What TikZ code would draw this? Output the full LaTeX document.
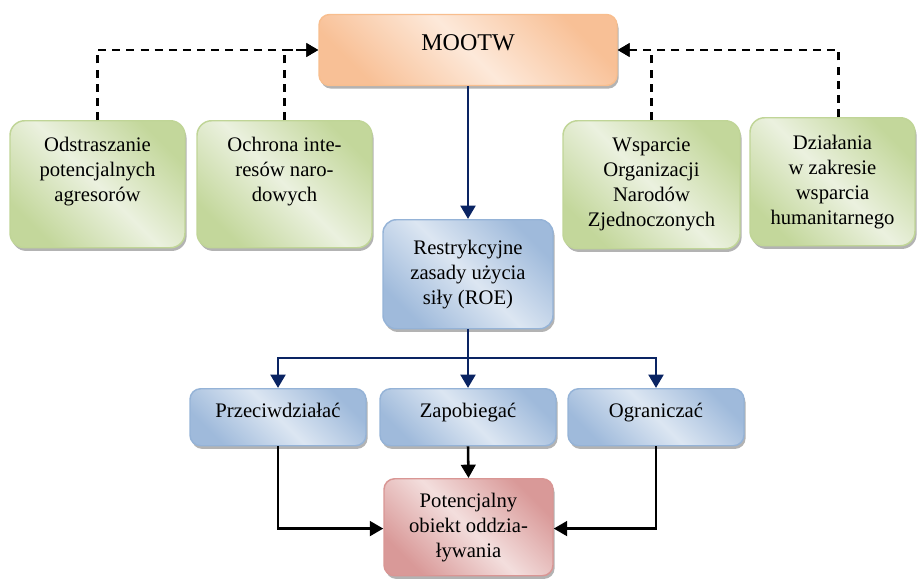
\documentclass[tikz,border=0pt]{standalone}
\usepackage{fontspec}
\setmainfont{Liberation Serif}
\usetikzlibrary{arrows.meta,shadows}

\definecolor{navyline}{HTML}{0A2463}
\definecolor{orBorder}{HTML}{F8BE8E}
\definecolor{orDark}{HTML}{F8C096}
\definecolor{orLight}{HTML}{FDE9DA}
\definecolor{grBorder}{HTML}{C0D597}
\definecolor{grDark}{HTML}{C3D79B}
\definecolor{grLight}{HTML}{EBF1DF}
\definecolor{blBorder}{HTML}{95B3D7}
\definecolor{blDark}{HTML}{9FBADB}
\definecolor{blLight}{HTML}{DCE6F2}
\definecolor{pkBorder}{HTML}{D99694}
\definecolor{pkDark}{HTML}{D99998}
\definecolor{pkLight}{HTML}{F3DEDD}

\def\upx{0.75pt}

\tikzset{
  box/.style={draw, line width=1.1pt, rounded corners=8pt, align=center,
    inner sep=2pt, font=\fontsize{15.5pt}{18.8pt}\selectfont,
    drop shadow={shadow xshift=1.2pt, shadow yshift=-2.4pt, fill=black!50, opacity=.6}},
  % single-line labels sit with their baseline on the box centre
  oneline/.style={text height=10pt, text depth=10pt},
  % diagonal gradient: darker at top-right and bottom-left corners
  diag/.style 2 args={top color=#1, bottom color=#1, middle color=#2, shading angle=-45},
  orbox/.style={box, draw=orBorder, diag={orDark}{orLight}},
  grbox/.style={box, draw=grBorder, diag={grDark}{grLight}, rounded corners=11pt},
  blbox/.style={box, draw=blBorder, diag={blDark}{blLight}},
  pkbox/.style={box, draw=pkBorder, diag={pkDark}{pkLight}},
  dashlink/.style={line width=1.9pt, dash pattern=on 6pt off 4.6pt, -{Triangle[length=9pt,width=10pt]}},
  navylink/.style={navyline, line width=2.2pt},
  navyarrow/.style={navylink, -{Triangle[length=10pt,width=11pt]}},
  blacklink/.style={black, line width=1.9pt, -{Triangle[length=10pt,width=11pt]}}
}

\begin{document}
\begin{tikzpicture}[x=0.75pt, y=-0.75pt]
\useasboundingbox (0,0) rectangle (917,579);

% top level
\node[orbox, oneline, minimum width=298*\upx, minimum height=71*\upx,
      font=\fontsize{18pt}{21pt}\selectfont] (mootw) at (468,50) {MOOTW};

% mission types (three-line labels sit in the upper part of the box)
\node[grbox, minimum width=175*\upx, minimum height=127*\upx, anchor=north] (g1) at (97.5,120)
  {Odstraszanie\\potencjalnych\\agresorów\\[4pt]};
\node[grbox, minimum width=175*\upx, minimum height=127*\upx, anchor=north] (g2) at (284.5,120)
  {Ochrona inte-\\resów naro-\\dowych\\[4pt]};
\node[grbox, minimum width=177*\upx, minimum height=128*\upx, anchor=north] (g3) at (651.5,120)
  {Wsparcie\\Organizacji\\Narodów\\Zjednoczonych};
\node[grbox, minimum width=165*\upx, minimum height=128*\upx, anchor=north] (g4) at (832.5,117)
  {Działania\\w zakresie\\wsparcia\\humanitarnego};

% rules of engagement
\node[blbox, minimum width=170*\upx, minimum height=109*\upx, rounded corners=10pt, anchor=north] (roe) at (468,219)
  {Restrykcyjne\\zasady użycia\\siły (ROE)};

% actions
\node[blbox, oneline, minimum width=176*\upx, minimum height=57*\upx, anchor=north] (p) at (278,388) {Przeciwdziałać};
\node[blbox, oneline, minimum width=176*\upx, minimum height=57*\upx, anchor=north] (z) at (468,388) {Zapobiegać};
\node[blbox, oneline, minimum width=176*\upx, minimum height=57*\upx, anchor=north] (o) at (656,388) {Ograniczać};

% target
\node[pkbox, minimum width=169*\upx, minimum height=97*\upx, anchor=north] (t) at (468.5,478)
  {Potencjalny\\obiekt oddzia-\\ływania};

% dashed feeds into MOOTW
\draw[dashlink] (g1.north) |- (mootw.west);
\draw[dashlink] (g2.north) |- (mootw.west);
\draw[dashlink] (g3.north) |- (mootw.east);
\draw[dashlink] ([xshift=4.5pt]g4.north) |- (mootw.east);

% main flow
\draw[navyarrow] (mootw.south) -- (roe.north);
\coordinate (split) at (468,358);
\draw[navylink] (roe.south) -- (split);
\draw[navyarrow] (split) -| (p.north);
\draw[navyarrow] (split) -- (z.north);
\draw[navyarrow] (split) -| (o.north);

% into target
\draw[blacklink] (p.south) |- ([yshift=-1pt]t.west);
\draw[blacklink] (z.south) -- (t.north);
\draw[blacklink] (o.south) |- ([yshift=-1pt]t.east);
\end{tikzpicture}
\end{document}
